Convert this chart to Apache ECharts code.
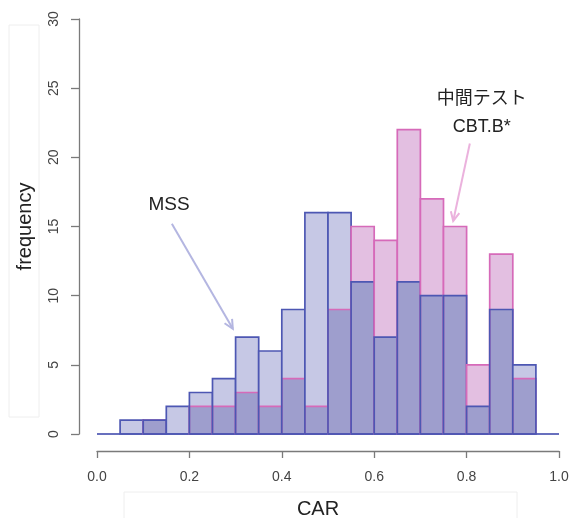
<!DOCTYPE html>
<html>
<head>
<meta charset="utf-8">
<script src="https://cdn.jsdelivr.net/npm/echarts@6/dist/echarts.min.js"></script>
<style>
html,body{margin:0;padding:0;background:#fff;}
#chart{width:570px;height:518px;}
</style>
</head>
<body>
<div id="chart"></div>
<script>
// ---- data ----
const binStart = [0.00,0.05,0.10,0.15,0.20,0.25,0.30,0.35,0.40,0.45,0.50,0.55,0.60,0.65,0.70,0.75,0.80,0.85,0.90,0.95];
const binWidth = 0.05;
const mssCounts = [0,1,1,2,3,4,7,6,9,16,16,11,7,11,10,10,2,9,5,0];
const cbtCounts = [0,0,1,0,2,2,3,2,4,2,9,15,14,22,17,15,5,13,4,0];
const xTicks = [0,0.2,0.4,0.6,0.8,1.0];
const yTicks = [0,5,10,15,20,25,30];
const labelMSS = 'MSS';
const labelCBT1 = '中間テスト';
const labelCBT2 = 'CBT.B*';

// ---- styles ----
const PINK_FILL = '#e3bfe1';
const BLUE_FILL = '#c6c8e5';
const OVER_FILL = '#9e9ecd';
const BLUE_STROKE = '#4d57b3';
const PINK_STROKE = '#d66ab9';
const AXIS_COLOR = '#7a7a7a';
const LABEL_COLOR = '#444';

const data = binStart.map((s,i)=>[s, s+binWidth, mssCounts[i], cbtCounts[i]]);

function renderItem(params, api){
  const x0 = api.value(0), x1 = api.value(1), m = api.value(2), c = api.value(3);
  const lo = Math.min(m,c);
  const p0 = api.coord([x0,0]);
  const left = p0[0], right = api.coord([x1,0])[0], y0 = p0[1];
  const w = right-left;
  const yOf = v => api.coord([x0,v])[1];
  const ch = [];
  if (c > m) ch.push({type:'rect', shape:{x:left,y:yOf(c),width:w,height:yOf(m)-yOf(c)}, style:{fill:PINK_FILL}});
  if (m > c) ch.push({type:'rect', shape:{x:left,y:yOf(m),width:w,height:yOf(c)-yOf(m)}, style:{fill:BLUE_FILL}});
  if (lo > 0) ch.push({type:'rect', shape:{x:left,y:yOf(lo),width:w,height:y0-yOf(lo)}, style:{fill:OVER_FILL}});
  if (c > 0) ch.push({type:'rect', shape:{x:left,y:yOf(c),width:w,height:y0-yOf(c)}, style:{fill:'none',stroke:PINK_STROKE,lineWidth:1.7}});
  if (m > 0) ch.push({type:'rect', shape:{x:left,y:yOf(m),width:w,height:y0-yOf(m)}, style:{fill:'none',stroke:BLUE_STROKE,lineWidth:1.7}});
  ch.push({type:'line', shape:{x1:left,y1:y0,x2:right,y2:y0}, style:{stroke:BLUE_STROKE,lineWidth:1.7}});
  return {type:'group', children:ch};
}

const chart = echarts.init(document.getElementById('chart'), null, {renderer:'canvas'});
const option = {
  animation:false,
  backgroundColor:'#fff',
  grid:{left:97,right:11,top:19,bottom:84, containLabel:false, outerBoundsMode:'none'},
  xAxis:{
    type:'value', min:xTicks[0], max:xTicks[xTicks.length-1], interval:0.2,
    offset:17,
    name:'CAR', nameLocation:'middle', nameGap:48,
    nameTextStyle:{fontFamily:'Liberation Sans', fontSize:20, color:'#222', padding:[0,20,0,0]},
    axisLine:{show:true, onZero:false, lineStyle:{color:AXIS_COLOR, width:1.3}},
    axisTick:{show:true, length:7, lineStyle:{color:AXIS_COLOR, width:1.3}},
    axisLabel:{margin:19, fontFamily:'Liberation Sans', fontSize:14, color:LABEL_COLOR,
      formatter:v=>v.toFixed(1)},
    splitLine:{show:false}
  },
  yAxis:{
    type:'value', min:yTicks[0], max:yTicks[yTicks.length-1], interval:5,
    offset:18,
    name:'frequency', nameLocation:'middle', nameGap:44, nameRotate:90,
    nameTextStyle:{fontFamily:'Liberation Sans', fontSize:20, color:'#222'},
    axisLine:{show:true, onZero:false, lineStyle:{color:AXIS_COLOR, width:1.3}},
    axisTick:{show:true, length:8, lineStyle:{color:AXIS_COLOR, width:1.3}},
    axisLabel:{margin:18, rotate:90, fontFamily:'Liberation Sans', fontSize:14, color:LABEL_COLOR},
    splitLine:{show:false}
  },
  series:[{
    type:'custom',
    renderItem:renderItem,
    data:data,
    encode:{x:[0,1], y:[2,3]},
    clip:false
  }]
};
chart.setOption(option);

// ---- annotations (data coordinates) ----
const annotMSS = {text:[0.156,16.6], from:[0.162,15.2], to:[0.294,7.6]};
const annotCBT = {text1:[0.833,24.35], text2:[0.833,22.2], from:[0.807,21.0], to:[0.771,15.4]};
const px = p => chart.convertToPixel({gridIndex:0}, p);

function arrow(fromD, toD, color){
  const a = px(fromD), b = px(toD);
  const ang = Math.atan2(b[1]-a[1], b[0]-a[0]);
  const L = 10, spread = Math.PI/7;
  const h1 = [b[0]-L*Math.cos(ang-spread), b[1]-L*Math.sin(ang-spread)];
  const h2 = [b[0]-L*Math.cos(ang+spread), b[1]-L*Math.sin(ang+spread)];
  return [
    {type:'line', shape:{x1:a[0],y1:a[1],x2:b[0],y2:b[1]}, style:{stroke:color,lineWidth:2}},
    {type:'polyline', shape:{points:[h1,b,h2]}, style:{stroke:color,lineWidth:2,fill:null}}
  ];
}
function txt(posD, t, size, family){
  const p = px(posD);
  return {type:'text', style:{text:t, x:p[0], y:p[1], align:'center', verticalAlign:'middle',
    fill:'#222', fontSize:size, fontFamily:family}};
}

chart.setOption({
  graphic:[
    {type:'rect', shape:{x:9,y:25,width:30,height:392}, style:{fill:'none',stroke:'#eeeeee',lineWidth:1}, z:-1},
    {type:'rect', shape:{x:124,y:492,width:393,height:40}, style:{fill:'none',stroke:'#eeeeee',lineWidth:1}, z:-1},
    txt(annotMSS.text, labelMSS, 19, 'Liberation Sans'),
    ...arrow(annotMSS.from, annotMSS.to, '#b4b6e1'),
    txt(annotCBT.text1, labelCBT1, 18, 'Noto Sans CJK JP'),
    txt(annotCBT.text2, labelCBT2, 18, 'Liberation Sans'),
    ...arrow(annotCBT.from, annotCBT.to, '#ebb2dd')
  ]
});
</script>
</body>
</html>
